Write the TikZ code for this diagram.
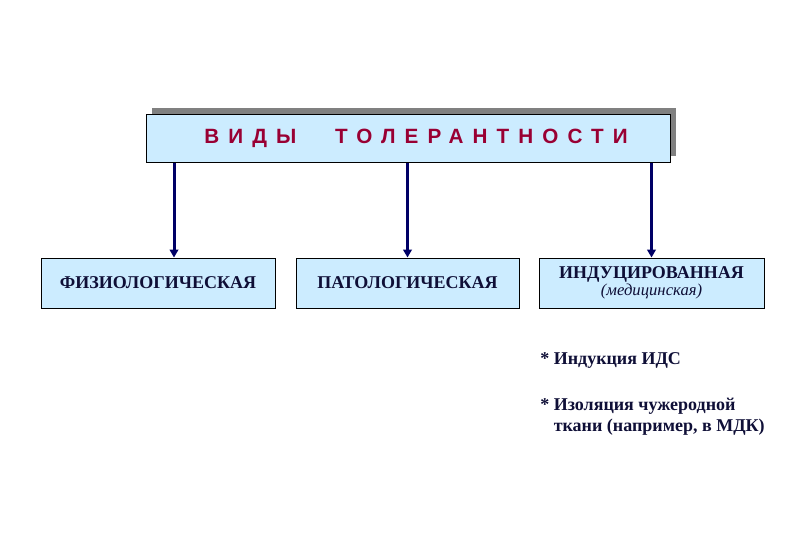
\documentclass[tikz,border=0pt]{standalone}
\usepackage{fontspec}
\setmainfont{Liberation Serif}
\newfontfamily\titlefont[LetterSpace=44]{Liberation Sans}
\usepackage{xcolor}
\usetikzlibrary{positioning, arrows.meta, shadows}
\definecolor{boxblue}{RGB}{204,236,255}
\definecolor{titlered}{RGB}{153,0,51}
\definecolor{arrownavy}{RGB}{0,0,102}
\definecolor{inknavy}{RGB}{15,15,55}
\tikzstyle{kind} = [rectangle, draw, line width=0.75pt, fill=boxblue, minimum height=37.5pt, inner sep=0pt, text=inknavy, font=\fontsize{13.5}{15}\selectfont\bfseries]
\tikzstyle{arrow} = [line width=2.25pt, draw=arrownavy, -{Triangle[width=6.5pt,length=6pt]}]

\begin{document}
\begin{tikzpicture}[x=0.75pt, y=-0.75pt,
    note/.style={anchor=west, align=left, inner sep=0pt, text=inknavy, font=\fontsize{13.5}{16}\selectfont\bfseries}]
    \useasboundingbox (0,0) rectangle (810,540);

    % Title box
    \node[kind, minimum width=393pt, minimum height=36pt,
          drop shadow={shadow xshift=4.5pt, shadow yshift=4.5pt, fill=gray, opacity=1},
          font=\titlefont\fontsize{15.5}{17}\selectfont\bfseries, text=titlered] (types) at (408,138) {\hspace{12pt}\raisebox{-1.5pt}{ВИДЫ\hspace{18pt} ТОЛЕРАНТНОСТИ}};

    % Kinds of tolerance
    \node[kind, minimum width=175.5pt] (physio) at (158,283) {ФИЗИОЛОГИЧЕСКАЯ};
    \node[kind, minimum width=167.25pt, right=15pt of physio] (patho) {ПАТОЛОГИЧЕСКАЯ};
    \node[kind, minimum width=168.75pt, right=14.25pt of patho, align=center] (induced) {ИНДУЦИРОВАННАЯ\\[-2pt]{\mdseries\itshape\fontsize{12.5}{14}\selectfont (медицинская)\hspace{6pt}}};

    % Arrows
    \draw[arrow] ([xshift=12pt]physio.north |- types.south) -- ([xshift=12pt]physio.north);
    \draw[arrow] (patho.north |- types.south) -- (patho.north);
    \draw[arrow] (induced.north |- types.south) -- (induced.north);

    % Notes
    \node[note] (ids) at (540,360) {* Индукция ИДС};
    \node[note, below=22pt of ids.south west, anchor=north west] (isol) {* Изоляция чужеродной\\\phantom{* }ткани (например, в МДК)};

\end{tikzpicture}
\end{document}
